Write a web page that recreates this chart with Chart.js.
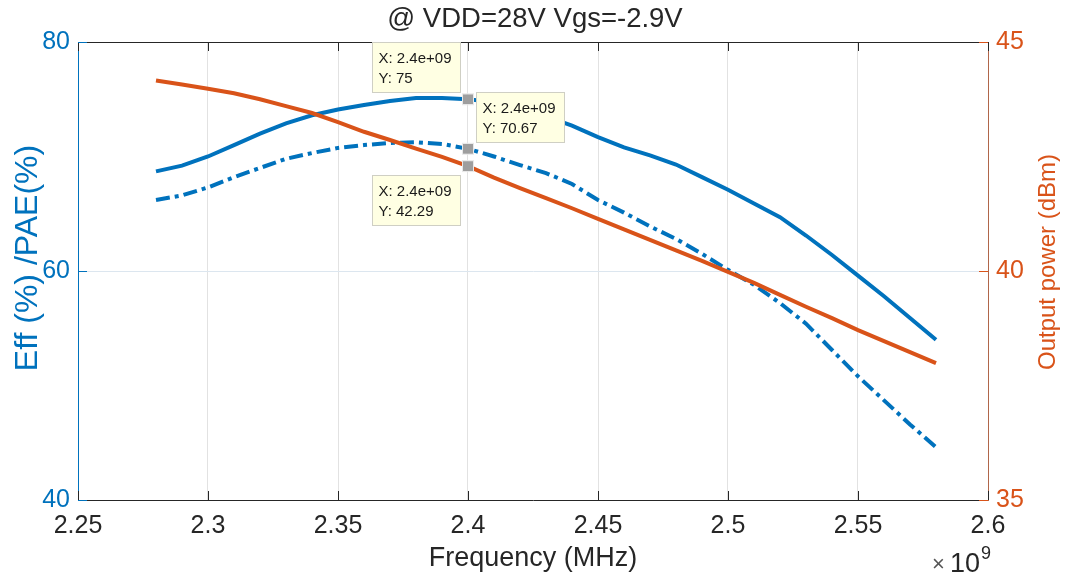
<!DOCTYPE html>
<html><head><meta charset="utf-8">
<script src="https://cdn.jsdelivr.net/npm/chart.js@4.4.0/dist/chart.umd.min.js"></script>
<style>html,body{margin:0;padding:0;background:#fff}#wrap{width:1070px;height:579px}</style>
</head><body><div id="wrap"><canvas id="c" width="1070" height="579"></canvas></div>
<script>
// ---- data ----
const freq = [2.28,2.29,2.30,2.31,2.32,2.33,2.34,2.35,2.36,2.37,2.38,2.39,2.40,2.41,2.42,2.43,2.44,2.45,2.46,2.47,2.48,2.49,2.50,2.51,2.52,2.53,2.54,2.55,2.56,2.57,2.58];
const eff  = [68.7,69.2,70.0,71.0,72.0,72.9,73.6,74.1,74.5,74.85,75.1,75.1,75.0,74.75,74.2,73.5,72.7,71.7,70.8,70.1,69.3,68.2,67.1,65.9,64.7,63.1,61.4,59.6,57.8,55.9,54.0];
const pae  = [66.2,66.6,67.3,68.2,69.0,69.8,70.3,70.75,71.0,71.18,71.24,71.1,70.67,70.0,69.25,68.55,67.6,66.2,65.1,63.9,62.8,61.5,60.1,58.8,57.2,55.4,53.1,50.8,48.7,46.6,44.6];
const pout = [44.16,44.07,43.98,43.88,43.75,43.6,43.45,43.25,43.04,42.86,42.67,42.49,42.29,42.04,41.81,41.59,41.37,41.14,40.91,40.68,40.45,40.22,39.98,39.74,39.48,39.22,38.97,38.71,38.47,38.23,37.99];
const xTicks = [2.25,2.3,2.35,2.4,2.45,2.5,2.55,2.6];
const effTicks = [40,60,80];
const poutTicks = [35,40,45];
const tipFreq = 2.4;
const titleText = '@ VDD=28V Vgs=-2.9V';
const xTitle = 'Frequency (MHz)';
const yTitle = 'Eff (%) /PAE(%)';
const y2Title = 'Output power (dBm)';

const BLUE = '#0072BD', ORANGE = '#D95319', DARK = '#262626';
const FONT = '"Liberation Sans", Arial, Helvetica, sans-serif';

function expFmt(v){
  const [m,e] = v.toExponential().split('e');
  const sign = e[0] === '-' ? '-' : '+';
  const ex = e.replace(/[+-]/,'').padStart(2,'0');
  return m + 'e' + sign + ex;
}
function yFmt(v){ return String(parseFloat(v.toPrecision(4))); }

const decor = {
  id: 'decor',
  afterDraw(chart){
    const ctx = chart.ctx, a = chart.chartArea;
    const xs = chart.scales.x, ys = chart.scales.y, y2 = chart.scales.y2;
    ctx.save();
    // top border
    ctx.lineWidth = 1;
    ctx.strokeStyle = DARK;
    ctx.beginPath(); ctx.moveTo(a.left, Math.round(a.top) + 0.5); ctx.lineTo(a.right, Math.round(a.top) + 0.5); ctx.stroke();
    // inward ticks
    xTicks.forEach(v => {
      const px = Math.round(xs.getPixelForValue(v)) + 0.5;
      ctx.beginPath();
      ctx.moveTo(px, a.bottom); ctx.lineTo(px, a.bottom - 9);
      ctx.moveTo(px, a.top); ctx.lineTo(px, a.top + 9);
      ctx.stroke();
    });
    ctx.strokeStyle = BLUE;
    effTicks.forEach(v => {
      const py = Math.round(ys.getPixelForValue(v)) + 0.5;
      ctx.beginPath(); ctx.moveTo(a.left, py); ctx.lineTo(a.left + 9, py); ctx.stroke();
    });
    ctx.strokeStyle = ORANGE;
    poutTicks.forEach(v => {
      const py = Math.round(y2.getPixelForValue(v)) + 0.5;
      ctx.beginPath(); ctx.moveTo(a.right, py); ctx.lineTo(a.right - 9, py); ctx.stroke();
    });
    // y axis titles (both read bottom-to-top)
    ctx.textAlign = 'center';
    ctx.textBaseline = 'middle';
    ctx.save();
    ctx.translate(28, 258); ctx.rotate(-Math.PI / 2);
    ctx.fillStyle = BLUE; ctx.font = '32px ' + FONT;
    ctx.fillText(yTitle, 0, 0);
    ctx.restore();
    ctx.save();
    ctx.translate(1048, 262); ctx.rotate(-Math.PI / 2);
    ctx.fillStyle = ORANGE; ctx.font = '24px ' + FONT;
    ctx.fillText(y2Title, 0, 0);
    ctx.restore();
    // exponent label
    ctx.textBaseline = 'alphabetic';
    ctx.textAlign = 'left';
    ctx.fillStyle = '#555';
    ctx.font = '22px ' + FONT;
    ctx.fillText('\u00d7', a.right - 56, 571);
    ctx.fillStyle = DARK;
    ctx.font = '27px ' + FONT;
    ctx.fillText('10', a.right - 38, 572);
    ctx.font = '18px ' + FONT;
    ctx.fillText('9', a.right - 7, 559);

    // data tips
    const idx = freq.indexOf(tipFreq);
    const tips = [
      {val: eff[idx], scale: ys, place: 'ul'},
      {val: pae[idx], scale: ys, place: 'ur'},
      {val: pout[idx], scale: y2, place: 'dl'}
    ];
    const bw = 88, bh = 50;
    tips.forEach(t => {
      const mx = xs.getPixelForValue(tipFreq), my = t.scale.getPixelForValue(t.val);
      let bx, by;
      if (t.place === 'ul'){ bx = mx - 8 - bw; by = my - 7 - bh; }
      else if (t.place === 'ur'){ bx = mx + 8; by = my - 7 - bh; }
      else { bx = mx - 8 - bw; by = my + 9; }
      bx = Math.round(bx) + 0.5; by = Math.round(by) + 0.5;
      ctx.fillStyle = '#ffffe3';
      ctx.strokeStyle = '#cfcfc4';
      ctx.lineWidth = 1;
      ctx.fillRect(bx, by, bw, bh);
      ctx.strokeRect(bx, by, bw, bh);
      ctx.fillStyle = '#1a1a1a';
      ctx.font = '15px ' + FONT;
      ctx.fillText('X: ' + expFmt(tipFreq * 1e9), bx + 6, by + 20);
      ctx.fillText('Y: ' + yFmt(t.val), bx + 6, by + 40);
    });
    tips.forEach(t => {
      const mx = xs.getPixelForValue(tipFreq), my = t.scale.getPixelForValue(t.val);
      ctx.fillStyle = '#9e9e9e';
      ctx.strokeStyle = '#e8e8e8';
      ctx.fillRect(mx - 5, my - 5, 10, 10);
      ctx.strokeRect(mx - 5.5, my - 5.5, 11, 11);
    });
    ctx.restore();
  }
};

new Chart(document.getElementById('c'), {
  type: 'line',
  data: {
    labels: freq,
    datasets: [
      {label: 'Eff', data: freq.map((f,i)=>({x:f, y:eff[i]})), yAxisID: 'y', borderColor: BLUE, borderWidth: 4, pointRadius: 0, tension: 0, fill: false, order: 1},
      {label: 'PAE', data: freq.map((f,i)=>({x:f, y:pae[i]})), yAxisID: 'y', borderColor: BLUE, borderWidth: 4, borderDash: [14,5,4,5], pointRadius: 0, tension: 0, fill: false, order: 2},
      {label: 'Pout', data: freq.map((f,i)=>({x:f, y:pout[i]})), yAxisID: 'y2', borderColor: ORANGE, borderWidth: 4, pointRadius: 0, tension: 0, fill: false, order: 0}
    ]
  },
  options: {
    responsive: false,
    animation: false,
    events: [],
    layout: {padding: 0},
    plugins: {
      legend: {display: false},
      tooltip: {enabled: false},
      title: {display: true, text: titleText, color: DARK, font: {family: FONT, size: 27.5, weight: 'normal', lineHeight: 1.2}, padding: {top: 3, bottom: 6}}
    },
    scales: {
      x: {
        type: 'linear', min: 2.25, max: 2.6,
        afterBuildTicks: s => { s.ticks = xTicks.map(v => ({value: v})); },
        afterFit: s => { s.height = 79; },
        ticks: {color: DARK, font: {family: FONT, size: 25}, padding: 11, maxRotation: 0, autoSkip: false, callback: v => String(v)},
        grid: {color: '#e2e2e2', drawTicks: false, lineWidth: 1},
        border: {color: DARK, width: 1},
        title: {display: true, text: xTitle, color: DARK, font: {family: FONT, size: 27}, padding: {top: 4, bottom: 4}}
      },
      y: {
        position: 'left', min: 40, max: 80,
        afterBuildTicks: s => { s.ticks = effTicks.map(v => ({value: v})); },
        afterFit: s => { s.width = 78; },
        ticks: {color: BLUE, font: {family: FONT, size: 25}, padding: 8, callback: v => String(v)},
        grid: {color: '#dce6ef', drawTicks: false, lineWidth: 1},
        border: {color: BLUE, width: 1},
        title: {display: false}
      },
      y2: {
        position: 'right', min: 35, max: 45,
        afterBuildTicks: s => { s.ticks = poutTicks.map(v => ({value: v})); },
        afterFit: s => { s.width = 82; },
        ticks: {color: ORANGE, font: {family: FONT, size: 25}, padding: 8, callback: v => String(v)},
        grid: {display: false, drawTicks: false},
        border: {color: '#b0664a', width: 1},
        title: {display: false}
      }
    }
  },
  plugins: [decor]
});
</script>
</body></html>
